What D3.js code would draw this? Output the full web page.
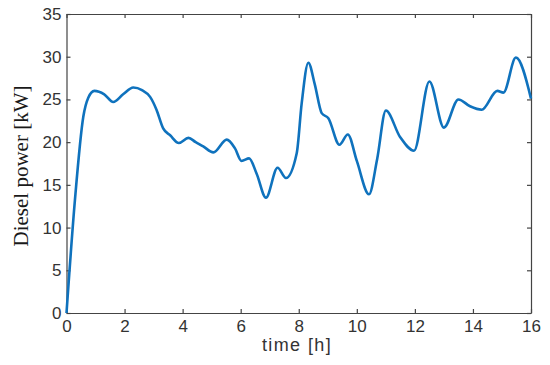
<!DOCTYPE html>
<html>
<head>
<meta charset="utf-8">
<script src="https://cdn.jsdelivr.net/npm/d3@7"></script>
<style>
  body { margin: 0; background: #fff; }
</style>
</head>
<body>
<svg width="550" height="365"></svg>
<script>
// time in hours
var hours = [0, 0.29, 0.58, 0.75, 0.96, 1.3, 1.61, 1.95, 2.3, 2.6, 2.88, 3.1, 3.33, 3.57, 3.87,
  4.2, 4.45, 4.71, 5.06, 5.52, 5.8, 6.03, 6.29, 6.55, 6.87, 7.27, 7.56, 7.93, 8.1, 8.33,
  8.55, 8.79, 9.02, 9.4, 9.69, 10.0, 10.42, 10.7, 11.0, 11.49, 11.97, 12.5, 13.0, 13.5,
  13.9, 14.3, 14.84, 15.05, 15.48, 16];
// diesel power in kW
var power = [0, 13.2, 23, 25.2, 26.0, 25.6, 24.7, 25.6, 26.4, 26.1, 25.3, 23.8, 21.6, 20.8, 19.9,
  20.5, 20.0, 19.5, 18.8, 20.3, 19.3, 17.8, 18.1, 16.3, 13.5, 17.0, 15.8, 18.7, 24.5, 29.3,
  26.8, 23.4, 22.8, 19.7, 20.9, 17.8, 13.9, 18.0, 23.7, 20.6, 19.0, 27.1, 21.7, 25.0,
  24.2, 23.8, 26.0, 25.8, 29.9, 25.1];
var xTicks = [0, 2, 4, 6, 8, 10, 12, 14, 16];
var yTicks = [0, 5, 10, 15, 20, 25, 30, 35];

var svg = d3.select("svg"),
  plotLeft = 66.5,
  plotRight = 531,
  plotTop = 14,
  plotBottom = 313;

var xScale = d3.scaleLinear().domain([0, 16]).range([plotLeft, plotRight]),
  yScale = d3.scaleLinear().domain([0, 35]).range([plotBottom, plotTop]);

var axisColor = "#444";

// frame with inward ticks on all sides
svg.append("g")
  .attr("transform", "translate(0," + plotBottom + ")")
  .call(d3.axisBottom(xScale).tickValues(xTicks).tickSize(-4).tickPadding(7).tickSizeOuter(0));
svg.append("g")
  .attr("transform", "translate(0," + plotTop + ")")
  .call(d3.axisTop(xScale).tickValues(xTicks).tickSize(-4).tickFormat("").tickSizeOuter(0));
svg.append("g")
  .attr("transform", "translate(" + plotLeft + ",0)")
  .call(d3.axisLeft(yScale).tickValues(yTicks).tickSize(-4).tickPadding(5).tickSizeOuter(0));
svg.append("g")
  .attr("transform", "translate(" + plotRight + ",0)")
  .call(d3.axisRight(yScale).tickValues(yTicks).tickSize(-4).tickFormat("").tickSizeOuter(0));

svg.selectAll(".domain, .tick line").attr("stroke", axisColor).attr("stroke-width", 1.2);
svg.selectAll(".tick text")
  .style("font-family", "'Liberation Sans', Arial, sans-serif")
  .style("font-size", "17px")
  .attr("fill", "#333");

var data = hours.map(function (h, i) { return { t: h, p: power[i] }; });

var line = d3.line()
  .x(function (d) { return xScale(d.t); })
  .y(function (d) { return yScale(d.p); })
  .curve(d3.curveMonotoneX);

svg.append("path")
  .datum(data)
  .attr("d", line)
  .style("fill", "none")
  .style("stroke", "#0f72bd")
  .style("stroke-width", 2.6)
  .style("stroke-linejoin", "round");

svg.append("text")
  .attr("x", 297)
  .attr("y", 351)
  .attr("text-anchor", "middle")
  .style("font-family", "'Liberation Sans', Arial, sans-serif")
  .style("font-size", "18px")
  .style("letter-spacing", "1.4px")
  .attr("fill", "#333")
  .text("time [h]");

svg.append("text")
  .attr("text-anchor", "middle")
  .attr("transform", "translate(28,166)rotate(-90)")
  .style("font-family", "'Liberation Serif', 'Times New Roman', serif")
  .style("font-size", "21px")
  .attr("fill", "#1a1a1a")
  .text("Diesel power [kW]");
</script>
</body>
</html>
